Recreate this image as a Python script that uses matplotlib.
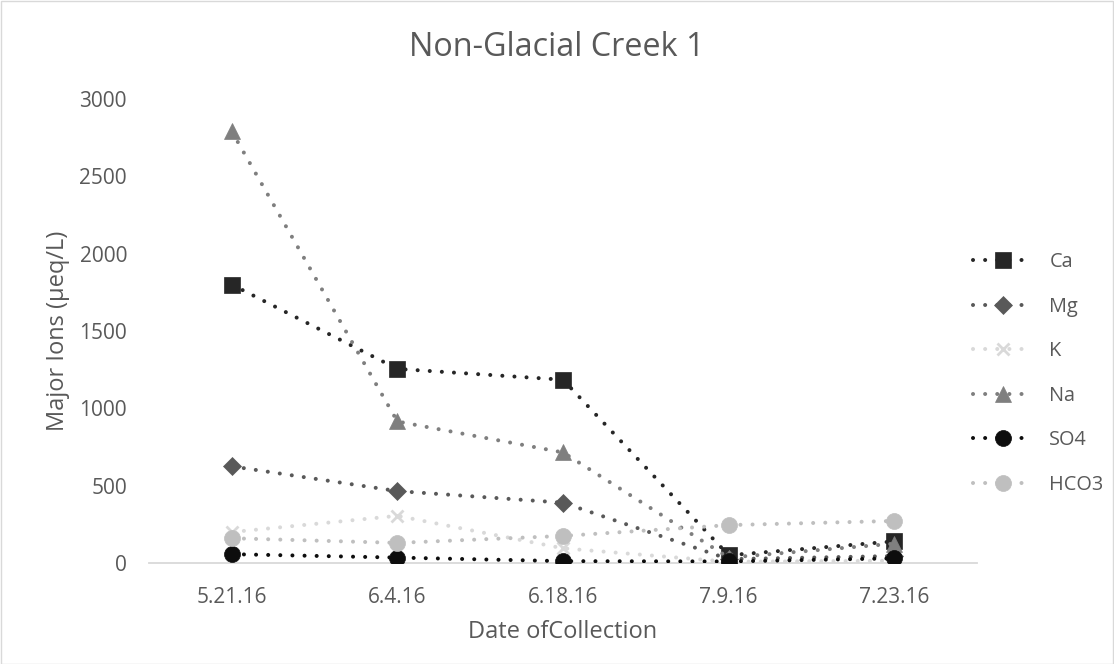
import matplotlib
matplotlib.use("Agg")
import matplotlib.pyplot as plt
from matplotlib.patches import Rectangle

plt.rcParams['font.family'] = ['Open Sans', 'DejaVu Sans']

dates = ["5.21.16", "6.4.16", "6.18.16", "7.9.16", "7.23.16"]
ca = [1800, 1255, 1185, 50, 140]
mg = [625, 465, 390, 25, 45]
k = [200, 305, 95, 8, 15]
na = [2790, 915, 715, 35, 125]
so4 = [57, 35, 12, 10, 30]
hco3 = [160, 130, 175, 245, 272]

series = [
    ("Ca", ca, "#262626", "s", 11),
    ("Mg", mg, "#595959", "D", 9.5),
    ("K", k, "#d9d9d9", "x", 9),
    ("Na", na, "#7f7f7f", "^", 11.5),
    ("SO4", so4, "#0d0d0d", "o", 11.5),
    ("HCO3", hco3, "#bfbfbf", "o", 11.5),
]

fig = plt.figure(figsize=(11.14, 6.64), dpi=100)
ax = fig.add_axes([149/1114, 1 - 563/664, (977 - 149)/1114, (563 - 99)/664])

x = list(range(len(dates)))
for i, (name, vals, col, mk, ms) in enumerate(series):
    ax.plot(x, vals, color=col, linestyle=(0, (0.01, 3.0)), linewidth=2.9,
            dash_capstyle='round', marker=mk, markersize=ms,
            markerfacecolor=col, markeredgecolor=col,
            markeredgewidth=2 if mk == "x" else 0.5, label=name, zorder=3 + i)

ax.set_xlim(-0.5, len(dates) - 0.5)
ax.set_ylim(0, 3000)
ax.set_yticks([0, 500, 1000, 1500, 2000, 2500, 3000])
ax.set_xticks(x)
ax.set_xticklabels(dates)
for s in ["top", "right", "left"]:
    ax.spines[s].set_visible(False)
ax.spines["bottom"].set_color("#d9d9d9")
ax.spines["bottom"].set_linewidth(1.3)
ax.tick_params(axis="both", length=0, labelsize=15, colors="#595959")
ax.tick_params(axis="y", pad=15.8)
ax.tick_params(axis="x", pad=17)
ax.set_ylabel("Major Ions (µeq/L)", fontsize=17, color="#595959", labelpad=7)
ax.set_xlabel("Date ofCollection", fontsize=17, color="#595959", labelpad=9)

fig.text(0.5, 1 - 48/664, "Non-Glacial Creek 1", ha="center", va="center",
         fontsize=23.3, color="#595959")

leg = fig.legend(loc="upper left", bbox_to_anchor=(955/1114, 1 - 234/664),
                 frameon=False, fontsize=14.3, handlelength=3.05,
                 labelspacing=1.24, handletextpad=0.8, markerscale=1.0,
                 borderpad=0.4)
for t in leg.get_texts():
    t.set_color("#595959")

fig.patches.append(Rectangle((0.5/1114, 0.5/664), 1 - 1.5/1114, 1 - 1.5/664,
                             transform=fig.transFigure, fill=False,
                             edgecolor="#d9d9d9", linewidth=1))

fig.savefig("out.png", dpi=100)
